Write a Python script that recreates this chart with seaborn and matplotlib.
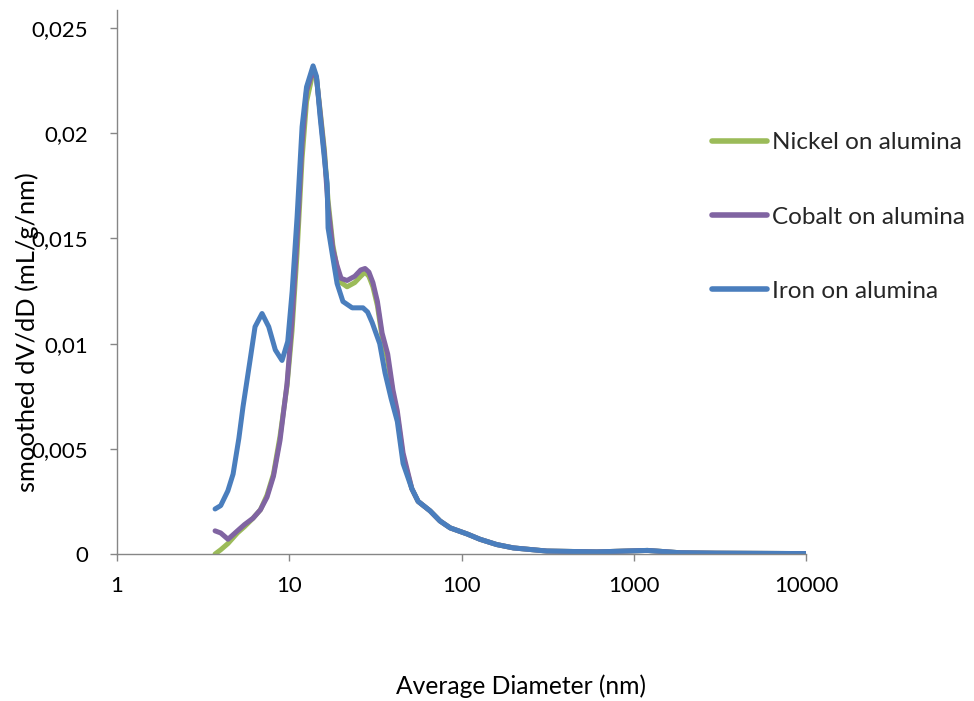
import numpy as np
import pandas as pd
import matplotlib
matplotlib.use("Agg")
import matplotlib.pyplot as plt
from matplotlib.ticker import FixedLocator, FuncFormatter, NullLocator
import seaborn as sns

# ---- data ----
tail_d = [51.5, 56, 65.7, 75, 86, 108, 128, 160, 200, 313, 610, 1200, 1850, 3000, 10000]
tail_v = [0.0031, 0.0025, 0.00205, 0.00157, 0.00124, 0.00095, 0.0007, 0.00045, 0.00029,
          0.00014, 0.0001, 0.00017, 0.00006, 0.00004, 0.00002]

ni_d = [3.71, 4.0, 4.41, 5.0, 5.5, 6.16, 6.8, 7.43, 8.1, 8.84, 9.71, 10.38, 11.1, 11.87,
        12.6, 13.75, 14.4, 15.1, 16.0, 16.8, 17.9, 18.95, 20.0, 21.66, 24.0, 26.0, 27.55,
        29.0, 30.6, 32.5, 34.6, 37.3, 40.0, 42.4, 45.8] + tail_d
ni_v = [0.0, 0.0002, 0.0005, 0.0010, 0.0013, 0.0017, 0.0021, 0.0028, 0.0038, 0.0056,
        0.0080, 0.0106, 0.0143, 0.0188, 0.0215, 0.0229, 0.0226, 0.0211, 0.0192, 0.0168,
        0.0147, 0.0136, 0.0129, 0.0127, 0.0129, 0.0132, 0.0134, 0.0132, 0.0127, 0.0118,
        0.0103, 0.0092, 0.0076, 0.0066, 0.0046] + tail_v

co_d = [3.71, 4.0, 4.41, 5.0, 5.5, 6.16, 6.8, 7.43, 8.1, 8.84, 9.71, 10.38, 11.1, 11.87,
        12.6, 13.75, 14.4, 15.1, 16.0, 16.8, 17.9, 18.95, 20.0, 21.66, 24.0, 26.0, 27.55,
        29.0, 30.6, 32.5, 34.6, 37.3, 40.0, 42.4, 45.8] + tail_d
co_v = [0.0011, 0.0010, 0.0007, 0.0011, 0.0014, 0.0017, 0.0021, 0.0027, 0.0037, 0.0054,
        0.0081, 0.0111, 0.0150, 0.0195, 0.0220, 0.0230, 0.0226, 0.0210, 0.0190, 0.0165,
        0.0145, 0.0137, 0.0131, 0.0130, 0.0132, 0.0135, 0.01357, 0.0134, 0.0129, 0.0120,
        0.0105, 0.0095, 0.0078, 0.0068, 0.0048] + tail_v

fe_d = [3.71, 4.0, 4.4, 4.72, 5.1, 5.39, 5.92, 6.33, 6.95, 7.6, 8.3, 9.08, 9.8, 10.4,
        11.1, 11.87, 12.6, 13.75, 14.4, 15.1, 16.0, 16.6, 16.8, 17.9, 18.95, 20.5, 23.2,
        26.8, 28.5, 30.3, 33.5, 36.0, 39.0, 42.4, 45.8] + tail_d
fe_v = [0.00214, 0.0023, 0.0030, 0.0038, 0.0055, 0.0070, 0.0092, 0.0108, 0.01143, 0.0108,
        0.0097, 0.0092, 0.0101, 0.0125, 0.0160, 0.0203, 0.0222, 0.0232, 0.0227, 0.0208,
        0.0188, 0.0176, 0.0155, 0.0141, 0.01286, 0.0120, 0.0117, 0.0117, 0.0115, 0.0110,
        0.0100, 0.0086, 0.0074, 0.0063, 0.0043] + tail_v

series = ["Nickel on alumina", "Cobalt on alumina", "Iron on alumina"]
colors = ["#9BBB59", "#8064A2", "#4A7EBD"]
x_ticks = [1, 10, 100, 1000, 10000]
y_ticks = [0, 0.005, 0.01, 0.015, 0.02, 0.025]

df = pd.concat([
    pd.DataFrame({"d": ni_d, "v": ni_v, "s": series[0]}),
    pd.DataFrame({"d": co_d, "v": co_v, "s": series[1]}),
    pd.DataFrame({"d": fe_d, "v": fe_v, "s": series[2]}),
])

sns.set_theme(style="white")
plt.rcParams["font.family"] = ["Lato", "DejaVu Sans"]

fig = plt.figure(figsize=(9.74, 7.01), dpi=100)
ax = fig.add_axes([117 / 974, 1 - 554 / 701, (806 - 117) / 974, (554 - 10) / 701])

sns.lineplot(data=df, x="d", y="v", hue="s", hue_order=series,
             palette=dict(zip(series, colors)), estimator=None, linewidth=3.6,
             ax=ax, legend=True)
for ln in ax.get_lines():
    ln.set_solid_capstyle("round")
    ln.set_solid_joinstyle("round")

ax.set_xscale("log")
ax.set_xlim(1, 10000)
ax.set_ylim(0, 0.025 * 544 / 526)
ax.xaxis.set_major_locator(FixedLocator(x_ticks))
ax.xaxis.set_minor_locator(NullLocator())
ax.xaxis.set_major_formatter(FuncFormatter(lambda v, p: f"{int(round(v))}"))
ax.yaxis.set_major_locator(FixedLocator(y_ticks))
ax.yaxis.set_major_formatter(FuncFormatter(lambda v, p: f"{v:g}".replace(".", ",")))

for side in ["top", "right"]:
    ax.spines[side].set_visible(False)
for side in ["left", "bottom"]:
    ax.spines[side].set_color("#868686")
    ax.spines[side].set_linewidth(1.0)
ax.tick_params(axis="both", which="major", direction="out", length=5, width=1,
               color="#868686", labelsize=16, labelcolor="black", left=True, bottom=True)
ax.tick_params(axis="y", pad=16)
ax.tick_params(axis="x", pad=11)

ax.set_xlabel("")
ax.set_ylabel("")
fig.text(27 / 974, 1 - 332 / 701, "smoothed dV/dD (mL/g/nm)", rotation=90,
         ha="center", va="center", fontsize=18.3, color="black")
fig.text(521 / 974, 1 - 686 / 701, "Average Diameter (nm)", ha="center", va="center",
         fontsize=17.7, color="black")

handles, labels = ax.get_legend_handles_labels()
ax.legend_.remove()
leg = fig.legend(handles, labels, loc="upper left",
                 bbox_to_anchor=(712 / 974, 1 - 132 / 701), frameon=False,
                 fontsize=17.5, handlelength=2.26, handletextpad=0.2,
                 labelspacing=2.2, borderpad=0, borderaxespad=0)
for h in leg.legend_handles:
    h.set_linewidth(4)
    h.set_solid_capstyle("round")

fig.savefig("out.png", dpi=100, facecolor="white")
